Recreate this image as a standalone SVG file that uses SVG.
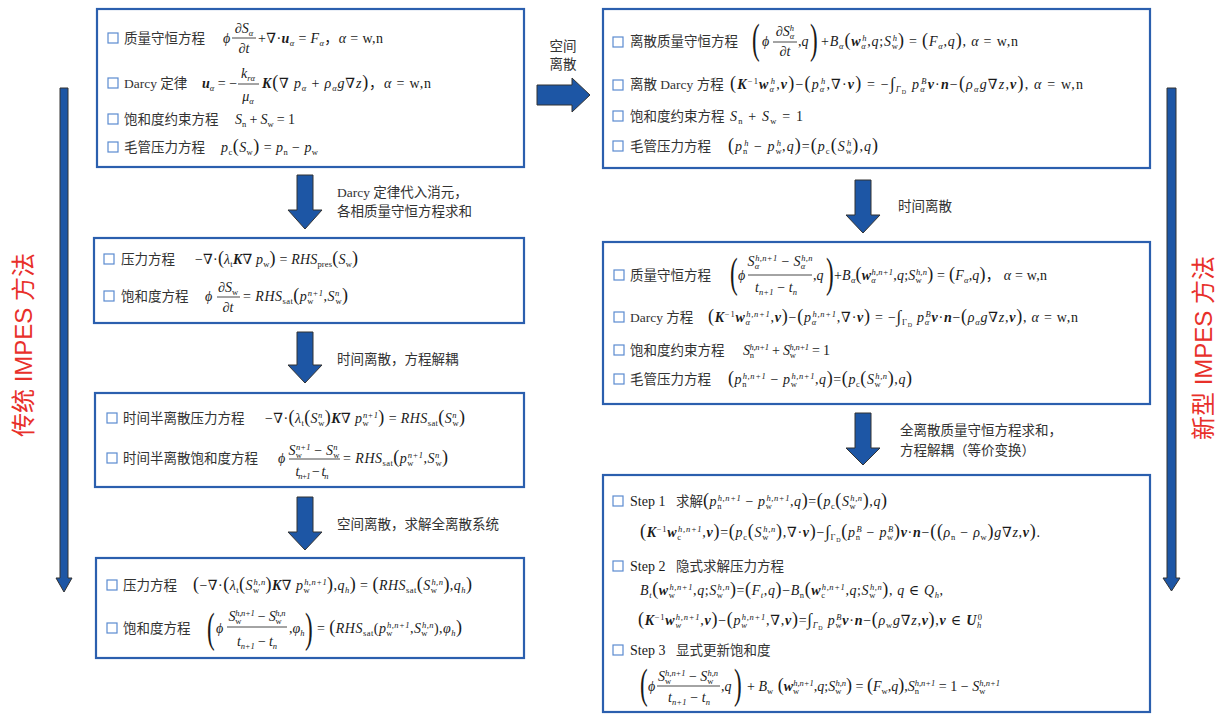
<svg xmlns="http://www.w3.org/2000/svg" width="1224" height="714" viewBox="0 0 1224 714">
<style>
.box{fill:#fff;stroke:#2b5fae;stroke-width:2.2}
.cb{fill:#fff;stroke:#5b8bd0;stroke-width:1.2}
.zh{font-family:"Liberation Serif","Noto Sans CJK SC",serif;font-size:13.5px;fill:#333}
.m{font-family:"Liberation Serif","DejaVu Serif","Noto Sans CJK SC",serif;font-size:14px;font-style:italic;fill:#1a1a1a}
.r{font-style:normal}
.v{font-weight:bold}
.sb{font-size:8.5px;baseline-shift:-3px;font-style:normal}
.si{font-size:8.5px;baseline-shift:-3px}
.sd{font-size:6px;baseline-shift:-5px;font-style:normal}
.sp{font-size:8.5px;baseline-shift:5px}
.su{font-size:8.5px;baseline-shift:5px;font-style:normal}
.pp{font-style:normal;font-size:18px}
.in{font-style:normal;font-size:17px}
.fp{font-family:"Liberation Serif",serif;font-size:42px;fill:#1a1a1a}
.fr{stroke:#1a1a1a;stroke-width:0.8}
.arr{fill:#1d56a5;stroke:#333;stroke-width:1}
.lb{font-family:"Liberation Serif","Noto Sans CJK SC",serif;font-size:13.5px;fill:#333}
.side{font-family:"Liberation Sans","Noto Sans CJK SC",sans-serif;font-size:24px;fill:#e8302a}
</style>

<g id="connectors">
<polygon class="arr" points="60,88 68,88 68,578 72,578 64,592 56,578 60,578"/>
<polygon class="arr" points="1167,88 1176,88 1176,578 1180,578 1171.5,591 1163,578 1167,578"/>
<polygon class="arr" points="297,175 313,175 313,210 322,210 305,229 288,210 297,210"/>
<polygon class="arr" points="297,332 313,332 313,365 322,365 305,383 288,365 297,365"/>
<polygon class="arr" points="297,497 313,497 313,532 322,532 305,550 288,532 297,532"/>
<polygon class="arr" points="855,180 871,180 871,215 880,215 863,233 846,215 855,215"/>
<polygon class="arr" points="855,413 871,413 871,448 880,448 863,465 846,448 855,448"/>
<polygon class="arr" points="537,85 572,85 572,78 590,95 572,112 572,105 537,105"/>
<text class="lb" x="337" y="197">Darcy 定律代入消元，</text>
<text class="lb" x="337" y="216">各相质量守恒方程求和</text>
<text class="lb" x="337" y="364">时间离散，方程解耦</text>
<text class="lb" x="337" y="529">空间离散，求解全离散系统</text>
<text class="lb" x="563" y="51" text-anchor="middle">空间</text>
<text class="lb" x="563" y="69" text-anchor="middle">离散</text>
<text class="lb" x="898" y="211">时间离散</text>
<text class="lb" x="900" y="435">全离散质量守恒方程求和，</text>
<text class="lb" x="900" y="455">方程解耦（等价变换）</text>
<text class="side" transform="translate(32,345) rotate(-90)" text-anchor="middle">传统 IMPES 方法</text>
<text class="side" transform="translate(1212,348) rotate(-90)" text-anchor="middle">新型 IMPES 方法</text>
</g>

<g id="box-l1">
<rect class="box" x="97" y="9" width="427" height="158"/>
<rect class="cb" x="108" y="33" width="10" height="10"/>
<text class="zh" x="124" y="43">质量守恒方程</text>
<text class="m" x="223" y="43">ϕ</text>
<text class="m" x="244" y="33" text-anchor="middle">∂S<tspan class="si">α</tspan></text>
<line class="fr" x1="232" y1="38" x2="256" y2="38"/>
<text class="m" x="244" y="53" text-anchor="middle">∂t</text>
<text class="m" x="258" y="43" textLength="125" lengthAdjust="spacing"><tspan class="r">+</tspan>∇<tspan class="r">·</tspan><tspan class="v">u</tspan><tspan class="si">α</tspan><tspan class="r"> = </tspan>F<tspan class="si">α</tspan><tspan class="r">，</tspan>α<tspan class="r"> = w,n</tspan></text>
<rect class="cb" x="108" y="78" width="10" height="10"/>
<text class="zh" x="124" y="88">Darcy 定律</text>
<text class="m" x="202" y="88"><tspan class="v">u</tspan><tspan class="si">α</tspan><tspan class="r"> = −</tspan></text>
<text class="m" x="248" y="78" text-anchor="middle">k<tspan class="si">rα</tspan></text>
<line class="fr" x1="238" y1="84" x2="259" y2="84"/>
<text class="m" x="248" y="101" text-anchor="middle">μ<tspan class="si">α</tspan></text>
<text class="m" x="262" y="88" textLength="169" lengthAdjust="spacing"><tspan class="v">K</tspan><tspan class="pp">(</tspan>∇ p<tspan class="si">α</tspan><tspan class="r"> + </tspan>ρ<tspan class="si">α</tspan>g∇z<tspan class="pp">)</tspan><tspan class="r">，</tspan>α<tspan class="r"> = w,n</tspan></text>
<rect class="cb" x="108" y="114" width="10" height="10"/>
<text class="zh" x="124" y="124">饱和度约束方程</text>
<text class="m" x="235" y="124" textLength="60" lengthAdjust="spacing">S<tspan class="sb">n</tspan><tspan class="r"> + </tspan>S<tspan class="sb">w</tspan><tspan class="r"> = 1</tspan></text>
<rect class="cb" x="108" y="142" width="10" height="10"/>
<text class="zh" x="124" y="152">毛管压力方程</text>
<text class="m" x="221" y="152" textLength="97" lengthAdjust="spacing">p<tspan class="sb">c</tspan><tspan class="pp">(</tspan>S<tspan class="sb">w</tspan><tspan class="pp">)</tspan><tspan class="r"> = </tspan>p<tspan class="sb">n</tspan><tspan class="r"> − </tspan>p<tspan class="sb">w</tspan></text>
</g>

<g id="box-l2">
<rect class="box" x="94" y="238" width="430" height="85"/>
<rect class="cb" x="104" y="254" width="10" height="10"/>
<text class="zh" x="121" y="264">压力方程</text>
<text class="m" x="195" y="264" textLength="163" lengthAdjust="spacing"><tspan class="r">−</tspan>∇<tspan class="r">·</tspan><tspan class="pp">(</tspan>λ<tspan class="sb">t</tspan><tspan class="v">K</tspan>∇ p<tspan class="sb">w</tspan><tspan class="pp">)</tspan><tspan class="r"> = </tspan>RHS<tspan class="sb">pres</tspan><tspan class="pp">(</tspan>S<tspan class="sb">w</tspan><tspan class="pp">)</tspan></text>
<rect class="cb" x="104" y="291" width="10" height="10"/>
<text class="zh" x="121" y="301">饱和度方程</text>
<text class="m" x="205" y="301">ϕ</text>
<text class="m" x="228" y="292" text-anchor="middle">∂S<tspan class="sb">w</tspan></text>
<line class="fr" x1="217" y1="297" x2="240" y2="297"/>
<text class="m" x="228" y="312" text-anchor="middle">∂t</text>
<text class="m" x="243" y="301" textLength="105" lengthAdjust="spacing"><tspan class="r">= </tspan>RHS<tspan class="sb">sat</tspan><tspan class="pp">(</tspan>p<tspan class="sb">w</tspan><tspan class="sp" dx="-6">n+1</tspan><tspan class="r">,</tspan>S<tspan class="sp">n</tspan><tspan class="sb" dx="-4.3">w</tspan><tspan class="pp">)</tspan></text>
</g>

<g id="box-l3">
<rect class="box" x="95" y="393" width="429" height="94"/>
<rect class="cb" x="107" y="413" width="10" height="10"/>
<text class="zh" x="123" y="423">时间半离散压力方程</text>
<text class="m" x="265" y="423" textLength="200" lengthAdjust="spacing"><tspan class="r">−</tspan>∇<tspan class="r">·</tspan><tspan class="pp">(</tspan>λ<tspan class="sb">t</tspan><tspan class="pp">(</tspan>S<tspan class="sp">n</tspan><tspan class="sb" dx="-4.3">w</tspan><tspan class="pp">)</tspan><tspan class="v">K</tspan>∇ p<tspan class="sb">w</tspan><tspan class="sp" dx="-6">n+1</tspan><tspan class="pp">)</tspan><tspan class="r"> = </tspan>RHS<tspan class="sb">sat</tspan><tspan class="pp">(</tspan>S<tspan class="sp">n</tspan><tspan class="sb" dx="-4.3">w</tspan><tspan class="pp">)</tspan></text>
<rect class="cb" x="107" y="453" width="10" height="10"/>
<text class="zh" x="123" y="463">时间半离散饱和度方程</text>
<text class="m" x="278" y="463">ϕ</text>
<text class="m" x="314" y="455" text-anchor="middle" textLength="51" lengthAdjust="spacing">S<tspan class="sb">w</tspan><tspan class="sp" dx="-6">n+1</tspan><tspan class="r"> − </tspan>S<tspan class="sp">n</tspan><tspan class="sb" dx="-4.3">w</tspan></text>
<line class="fr" x1="289" y1="459" x2="340" y2="459"/>
<text class="m" x="312" y="476" text-anchor="middle" textLength="33" lengthAdjust="spacing">t<tspan class="si">n+1</tspan><tspan class="r"> − </tspan>t<tspan class="si">n</tspan></text>
<text class="m" x="343" y="463" textLength="105" lengthAdjust="spacing"><tspan class="r">= </tspan>RHS<tspan class="sb">sat</tspan><tspan class="pp">(</tspan>p<tspan class="sb">w</tspan><tspan class="sp" dx="-6">n+1</tspan><tspan class="r">,</tspan>S<tspan class="sp">n</tspan><tspan class="sb" dx="-4.3">w</tspan><tspan class="pp">)</tspan></text>
</g>

<g id="box-l4">
<rect class="box" x="96" y="558" width="428" height="100"/>
<rect class="cb" x="107" y="580" width="10" height="10"/>
<text class="zh" x="123" y="590">压力方程</text>
<text class="m" x="193" y="590" textLength="279" lengthAdjust="spacing"><tspan class="pp">(</tspan><tspan class="r">−</tspan>∇<tspan class="r">·</tspan><tspan class="pp">(</tspan>λ<tspan class="sb">t</tspan><tspan class="pp">(</tspan>S<tspan class="sb">w</tspan><tspan class="sp" dx="-6">h,n</tspan><tspan class="pp">)</tspan><tspan class="v">K</tspan>∇ p<tspan class="sb">w</tspan><tspan class="sp" dx="-6">h,n+1</tspan><tspan class="pp">)</tspan><tspan class="r">,</tspan>q<tspan class="si">h</tspan><tspan class="pp">)</tspan><tspan class="r"> = </tspan><tspan class="pp">(</tspan>RHS<tspan class="sb">sat</tspan><tspan class="pp">(</tspan>S<tspan class="sb">w</tspan><tspan class="sp" dx="-6">h,n</tspan><tspan class="pp">)</tspan><tspan class="r">,</tspan>q<tspan class="si">h</tspan><tspan class="pp">)</tspan></text>
<rect class="cb" x="107" y="623" width="10" height="10"/>
<text class="zh" x="123" y="633">饱和度方程</text>
<text class="fp" transform="translate(207,642) scale(0.55,1)">(</text>
<text class="m" x="216" y="633">ϕ</text>
<text class="m" x="257" y="621" text-anchor="middle" textLength="57" lengthAdjust="spacing">S<tspan class="sb">w</tspan><tspan class="sp" dx="-6">h,n+1</tspan><tspan class="r"> − </tspan>S<tspan class="sb">w</tspan><tspan class="sp" dx="-6">h,n</tspan></text>
<line class="fr" x1="227" y1="627" x2="287" y2="627"/>
<text class="m" x="257" y="646" text-anchor="middle" textLength="40" lengthAdjust="spacing">t<tspan class="si">n+1</tspan><tspan class="r"> − </tspan>t<tspan class="si">n</tspan></text>
<text class="m" x="289" y="633"><tspan class="r">,</tspan>φ<tspan class="si">h</tspan></text>
<text class="fp" transform="translate(305,642) scale(0.55,1)">)</text>
<text class="m" x="317" y="633" textLength="145" lengthAdjust="spacing"><tspan class="r">= </tspan><tspan class="pp">(</tspan>RHS<tspan class="sb">sat</tspan><tspan class="r">(</tspan>p<tspan class="sb">w</tspan><tspan class="sp" dx="-6">h,n+1</tspan><tspan class="r">,</tspan>S<tspan class="sb">w</tspan><tspan class="sp" dx="-6">h,n</tspan><tspan class="r">),</tspan>φ<tspan class="si">h</tspan><tspan class="pp">)</tspan></text>
</g>

<g id="box-r1">
<rect class="box" x="603" y="9" width="547" height="159"/>
<rect class="cb" x="613" y="37" width="10" height="10"/>
<text class="zh" x="630" y="46">离散质量守恒方程</text>
<text class="fp" transform="translate(752,53) scale(0.55,1)">(</text>
<text class="m" x="762" y="46">ϕ</text>
<text class="m" x="785" y="36" text-anchor="middle">∂S<tspan class="si">α</tspan><tspan class="sp" dx="-4.5">h</tspan></text>
<line class="fr" x1="773" y1="42" x2="797" y2="42"/>
<text class="m" x="785" y="56" text-anchor="middle">∂t</text>
<text class="m" x="798" y="46"><tspan class="r">,</tspan>q</text>
<text class="fp" transform="translate(810,53) scale(0.55,1)">)</text>
<text class="m" x="821" y="46" textLength="197" lengthAdjust="spacing"><tspan class="r">+</tspan>B<tspan class="si">α</tspan><tspan class="pp">(</tspan><tspan class="v">w</tspan><tspan class="si">α</tspan><tspan class="sp" dx="-4.5">h</tspan><tspan class="r">,</tspan>q<tspan class="r">;</tspan>S<tspan class="sb">w</tspan><tspan class="sp" dx="-6">h</tspan><tspan class="pp">)</tspan><tspan class="r"> = </tspan><tspan class="pp">(</tspan>F<tspan class="si">α</tspan><tspan class="r">,</tspan>q<tspan class="pp">)</tspan><tspan class="r">,   </tspan>α<tspan class="r"> = w,n</tspan></text>
<rect class="cb" x="613" y="80" width="10" height="10"/>
<text class="zh" x="630" y="89">离散 Darcy 方程</text>
<text class="m" x="730" y="89" textLength="353" lengthAdjust="spacing"><tspan class="pp">(</tspan><tspan class="v">K</tspan><tspan class="su">−1</tspan><tspan class="v">w</tspan><tspan class="si">α</tspan><tspan class="sp" dx="-4.5">h</tspan><tspan class="r">,</tspan><tspan class="v">v</tspan><tspan class="pp">)</tspan><tspan class="r">−</tspan><tspan class="pp">(</tspan>p<tspan class="si">α</tspan><tspan class="sp" dx="-4.5">h</tspan><tspan class="r">,</tspan>∇<tspan class="r">·</tspan><tspan class="v">v</tspan><tspan class="pp">)</tspan><tspan class="r"> = −</tspan><tspan class="in">∫</tspan><tspan class="si">Γ</tspan><tspan class="sd">D</tspan> p<tspan class="si">α</tspan><tspan class="sp" dx="-4.5">B</tspan><tspan class="v">v</tspan><tspan class="r">·</tspan><tspan class="v">n</tspan><tspan class="r">−</tspan><tspan class="pp">(</tspan>ρ<tspan class="si">α</tspan>g∇z<tspan class="r">,</tspan><tspan class="v">v</tspan><tspan class="pp">)</tspan><tspan class="r">,   </tspan>α<tspan class="r"> = w,n</tspan></text>
<rect class="cb" x="613" y="111" width="10" height="10"/>
<text class="zh" x="630" y="121">饱和度约束方程</text>
<text class="m" x="730" y="121" textLength="73" lengthAdjust="spacing">S<tspan class="sb">n</tspan><tspan class="r"> + </tspan>S<tspan class="sb">w</tspan><tspan class="r"> = 1</tspan></text>
<rect class="cb" x="613" y="141" width="10" height="10"/>
<text class="zh" x="630" y="151">毛管压力方程</text>
<text class="m" x="728" y="151" textLength="150" lengthAdjust="spacing"><tspan class="pp">(</tspan>p<tspan class="sb">n</tspan><tspan class="sp" dx="-4.3">h</tspan><tspan class="r"> − </tspan>p<tspan class="sb">w</tspan><tspan class="sp" dx="-6">h</tspan><tspan class="r">,</tspan>q<tspan class="pp">)</tspan><tspan class="r">=</tspan><tspan class="pp">(</tspan>p<tspan class="sb">c</tspan><tspan class="pp">(</tspan>S<tspan class="sb">w</tspan><tspan class="sp" dx="-6">h</tspan><tspan class="pp">)</tspan><tspan class="r">,</tspan>q<tspan class="pp">)</tspan></text>
</g>

<g id="box-r2">
<rect class="box" x="603" y="242" width="547" height="162"/>
<rect class="cb" x="614" y="270" width="10" height="10"/>
<text class="zh" x="630" y="280">质量守恒方程</text>
<text class="fp" transform="translate(730,287) scale(0.55,1)">(</text>
<text class="m" x="738" y="280">ϕ</text>
<text class="m" x="780" y="266" text-anchor="middle" textLength="65" lengthAdjust="spacing">S<tspan class="si">α</tspan><tspan class="sp" dx="-4.5">h,n+1</tspan><tspan class="r"> − </tspan>S<tspan class="si">α</tspan><tspan class="sp" dx="-4.5">h,n</tspan></text>
<line class="fr" x1="748" y1="275" x2="812" y2="275"/>
<text class="m" x="776" y="292" text-anchor="middle" textLength="42" lengthAdjust="spacing">t<tspan class="si">n+1</tspan><tspan class="r"> − </tspan>t<tspan class="si">n</tspan></text>
<text class="m" x="813" y="280"><tspan class="r">,</tspan>q</text>
<text class="fp" transform="translate(826,287) scale(0.55,1)">)</text>
<text class="m" x="834" y="280" textLength="213" lengthAdjust="spacing"><tspan class="r">+</tspan>B<tspan class="si">α</tspan><tspan class="pp">(</tspan><tspan class="v">w</tspan><tspan class="si">α</tspan><tspan class="sp" dx="-4.5">h,n+1</tspan><tspan class="r">,</tspan>q<tspan class="r">;</tspan>S<tspan class="sb">w</tspan><tspan class="sp" dx="-6">h,n</tspan><tspan class="pp">)</tspan><tspan class="r"> = </tspan><tspan class="pp">(</tspan>F<tspan class="si">α</tspan><tspan class="r">,</tspan>q<tspan class="pp">)</tspan><tspan class="r">， </tspan>α<tspan class="r"> = w,n</tspan></text>
<rect class="cb" x="614" y="312" width="10" height="10"/>
<text class="zh" x="630" y="322">Darcy 方程</text>
<text class="m" x="708" y="322" textLength="370" lengthAdjust="spacing"><tspan class="pp">(</tspan><tspan class="v">K</tspan><tspan class="su">−1</tspan><tspan class="v">w</tspan><tspan class="si">α</tspan><tspan class="sp" dx="-4.5">h,n+1</tspan><tspan class="r">,</tspan><tspan class="v">v</tspan><tspan class="pp">)</tspan><tspan class="r">−</tspan><tspan class="pp">(</tspan>p<tspan class="si">α</tspan><tspan class="sp" dx="-4.5">h,n+1</tspan><tspan class="r">,</tspan>∇<tspan class="r">·</tspan><tspan class="v">v</tspan><tspan class="pp">)</tspan><tspan class="r"> = −</tspan><tspan class="in">∫</tspan><tspan class="sb">Γ</tspan><tspan class="sd">D</tspan> p<tspan class="si">α</tspan><tspan class="sp" dx="-4.5">B</tspan><tspan class="v">v</tspan><tspan class="r">·</tspan><tspan class="v">n</tspan><tspan class="r">−</tspan><tspan class="pp">(</tspan>ρ<tspan class="si">α</tspan>g∇z<tspan class="r">,</tspan><tspan class="v">v</tspan><tspan class="pp">)</tspan><tspan class="r">,   </tspan>α<tspan class="r"> = w,n</tspan></text>
<rect class="cb" x="614" y="345" width="10" height="10"/>
<text class="zh" x="630" y="355">饱和度约束方程</text>
<text class="m" x="743" y="355" textLength="87" lengthAdjust="spacing">S<tspan class="sb">n</tspan><tspan class="sp" dx="-4.3">h,n+1</tspan><tspan class="r"> + </tspan>S<tspan class="sb">w</tspan><tspan class="sp" dx="-6">h,n+1</tspan><tspan class="r"> = 1</tspan></text>
<rect class="cb" x="614" y="374" width="10" height="10"/>
<text class="zh" x="630" y="384">毛管压力方程</text>
<text class="m" x="728" y="384" textLength="184" lengthAdjust="spacing"><tspan class="pp">(</tspan>p<tspan class="sb">n</tspan><tspan class="sp" dx="-4.3">h,n+1</tspan><tspan class="r"> − </tspan>p<tspan class="sb">w</tspan><tspan class="sp" dx="-6">h,n+1</tspan><tspan class="r">,</tspan>q<tspan class="pp">)</tspan><tspan class="r">=</tspan><tspan class="pp">(</tspan>p<tspan class="sb">c</tspan><tspan class="pp">(</tspan>S<tspan class="sb">w</tspan><tspan class="sp" dx="-6">h,n</tspan><tspan class="pp">)</tspan><tspan class="r">,</tspan>q<tspan class="pp">)</tspan></text>
</g>

<g id="box-r3">
<rect class="box" x="603" y="475" width="547" height="237"/>
<rect class="cb" x="613" y="496" width="10" height="10"/>
<text class="m r" x="630" y="506">Step 1</text>
<text class="zh" x="676" y="506">求解</text>
<text class="m" x="703" y="506" textLength="184" lengthAdjust="spacing"><tspan class="pp">(</tspan>p<tspan class="sb">n</tspan><tspan class="sp" dx="-4.3">h,n+1</tspan><tspan class="r"> − </tspan>p<tspan class="sb">w</tspan><tspan class="sp" dx="-6">h,n+1</tspan><tspan class="r">,</tspan>q<tspan class="pp">)</tspan><tspan class="r">=</tspan><tspan class="pp">(</tspan>p<tspan class="sb">c</tspan><tspan class="pp">(</tspan>S<tspan class="sb">w</tspan><tspan class="sp" dx="-6">h,n</tspan><tspan class="pp">)</tspan><tspan class="r">,</tspan>q<tspan class="pp">)</tspan></text>
<text class="m" x="640" y="537" textLength="400" lengthAdjust="spacing"><tspan class="pp">(</tspan><tspan class="v">K</tspan><tspan class="su">−1</tspan><tspan class="v">w</tspan><tspan class="sb">c</tspan><tspan class="sp" dx="-3.8">h,n+1</tspan><tspan class="r">,</tspan><tspan class="v">v</tspan><tspan class="pp">)</tspan><tspan class="r">=</tspan><tspan class="pp">(</tspan>p<tspan class="sb">c</tspan><tspan class="pp">(</tspan>S<tspan class="sb">w</tspan><tspan class="sp" dx="-6">h,n</tspan><tspan class="pp">)</tspan><tspan class="r">,</tspan>∇<tspan class="r">·</tspan><tspan class="v">v</tspan><tspan class="pp">)</tspan><tspan class="r">−</tspan><tspan class="in">∫</tspan><tspan class="sb">Γ</tspan><tspan class="sd">D</tspan><tspan class="pp">(</tspan>p<tspan class="sb">n</tspan><tspan class="sp" dx="-4.3">B</tspan><tspan class="r"> − </tspan>p<tspan class="sb">w</tspan><tspan class="sp" dx="-6">B</tspan><tspan class="pp">)</tspan><tspan class="v">v</tspan><tspan class="r">·</tspan><tspan class="v">n</tspan><tspan class="r">−</tspan><tspan class="pp">((</tspan>ρ<tspan class="sb">n</tspan><tspan class="r"> − </tspan>ρ<tspan class="sb">w</tspan><tspan class="pp">)</tspan>g∇z<tspan class="r">,</tspan><tspan class="v">v</tspan><tspan class="pp">)</tspan><tspan class="r">.</tspan></text>
<rect class="cb" x="613" y="561" width="10" height="10"/>
<text class="m r" x="630" y="571">Step 2</text>
<text class="zh" x="676" y="571">隐式求解压力方程</text>
<text class="m" x="640" y="595" textLength="303" lengthAdjust="spacing">B<tspan class="si">t</tspan><tspan class="pp">(</tspan><tspan class="v">w</tspan><tspan class="sb">w</tspan><tspan class="sp" dx="-6">h,n+1</tspan><tspan class="r">,</tspan>q<tspan class="r">;</tspan>S<tspan class="sb">w</tspan><tspan class="sp" dx="-6">h,n</tspan><tspan class="pp">)</tspan><tspan class="r">=</tspan><tspan class="pp">(</tspan>F<tspan class="si">t</tspan><tspan class="r">,</tspan>q<tspan class="pp">)</tspan><tspan class="r">−</tspan>B<tspan class="sb">n</tspan><tspan class="pp">(</tspan><tspan class="v">w</tspan><tspan class="sb">c</tspan><tspan class="sp" dx="-3.8">h,n+1</tspan><tspan class="r">,</tspan>q<tspan class="r">;</tspan>S<tspan class="sb">w</tspan><tspan class="sp" dx="-6">h,n</tspan><tspan class="pp">)</tspan><tspan class="r">,   </tspan>q<tspan class="r"> ∈ </tspan>Q<tspan class="si">h</tspan><tspan class="r">,</tspan></text>
<text class="m" x="638" y="625" textLength="344" lengthAdjust="spacing"><tspan class="pp">(</tspan><tspan class="v">K</tspan><tspan class="su">−1</tspan><tspan class="v">w</tspan><tspan class="si">w</tspan><tspan class="sp" dx="-6">h,n+1</tspan><tspan class="r">,</tspan><tspan class="v">v</tspan><tspan class="pp">)</tspan><tspan class="r">−</tspan><tspan class="pp">(</tspan>p<tspan class="si">w</tspan><tspan class="sp" dx="-6">h,n+1</tspan><tspan class="r">,∇,</tspan><tspan class="v">v</tspan><tspan class="pp">)</tspan><tspan class="r">=</tspan><tspan class="in">∫</tspan><tspan class="si">Γ</tspan><tspan class="sd">D</tspan> p<tspan class="sb">w</tspan><tspan class="sp" dx="-6">B</tspan><tspan class="v">v</tspan><tspan class="r">·</tspan><tspan class="v">n</tspan><tspan class="r">−</tspan><tspan class="pp">(</tspan>ρ<tspan class="sb">w</tspan>g∇z<tspan class="r">,</tspan><tspan class="v">v</tspan><tspan class="pp">)</tspan><tspan class="r">,</tspan><tspan class="v">v</tspan><tspan class="r"> ∈ </tspan><tspan class="v">U</tspan><tspan class="si">h</tspan><tspan class="su" dx="-4.3">0</tspan></text>
<rect class="cb" x="613" y="645" width="10" height="10"/>
<text class="m r" x="630" y="655">Step 3</text>
<text class="zh" x="676" y="655">显式更新饱和度</text>
<text class="fp" transform="translate(640,698) scale(0.55,1)">(</text>
<text class="m" x="648" y="691">ϕ</text>
<text class="m" x="688" y="681" text-anchor="middle" textLength="60" lengthAdjust="spacing">S<tspan class="sb">w</tspan><tspan class="sp" dx="-6">h,n+1</tspan><tspan class="r"> − </tspan>S<tspan class="sb">w</tspan><tspan class="sp" dx="-6">h,n</tspan></text>
<line class="fr" x1="657" y1="686" x2="720" y2="686"/>
<text class="m" x="689" y="702" text-anchor="middle" textLength="42" lengthAdjust="spacing">t<tspan class="si">n+1</tspan><tspan class="r"> − </tspan>t<tspan class="si">n</tspan></text>
<text class="m" x="721" y="691"><tspan class="r">,</tspan>q</text>
<text class="fp" transform="translate(734,698) scale(0.55,1)">)</text>
<text class="m" x="747" y="691" textLength="253" lengthAdjust="spacing"><tspan class="r">+ </tspan>B<tspan class="sb">w</tspan><tspan class="pp"> (</tspan><tspan class="v">w</tspan><tspan class="sb">w</tspan><tspan class="sp" dx="-6">h,n+1</tspan><tspan class="r">,</tspan>q<tspan class="r">;</tspan>S<tspan class="sb">w</tspan><tspan class="sp" dx="-6">h,n</tspan><tspan class="pp">)</tspan><tspan class="r"> = </tspan><tspan class="pp">(</tspan>F<tspan class="sb">w</tspan><tspan class="r">,</tspan>q<tspan class="pp">)</tspan><tspan class="r">,</tspan>S<tspan class="sb">n</tspan><tspan class="sp" dx="-4.3">h,n+1</tspan><tspan class="r"> = 1 − </tspan>S<tspan class="sb">w</tspan><tspan class="sp" dx="-6">h,n+1</tspan></text>
</g>
</svg>
